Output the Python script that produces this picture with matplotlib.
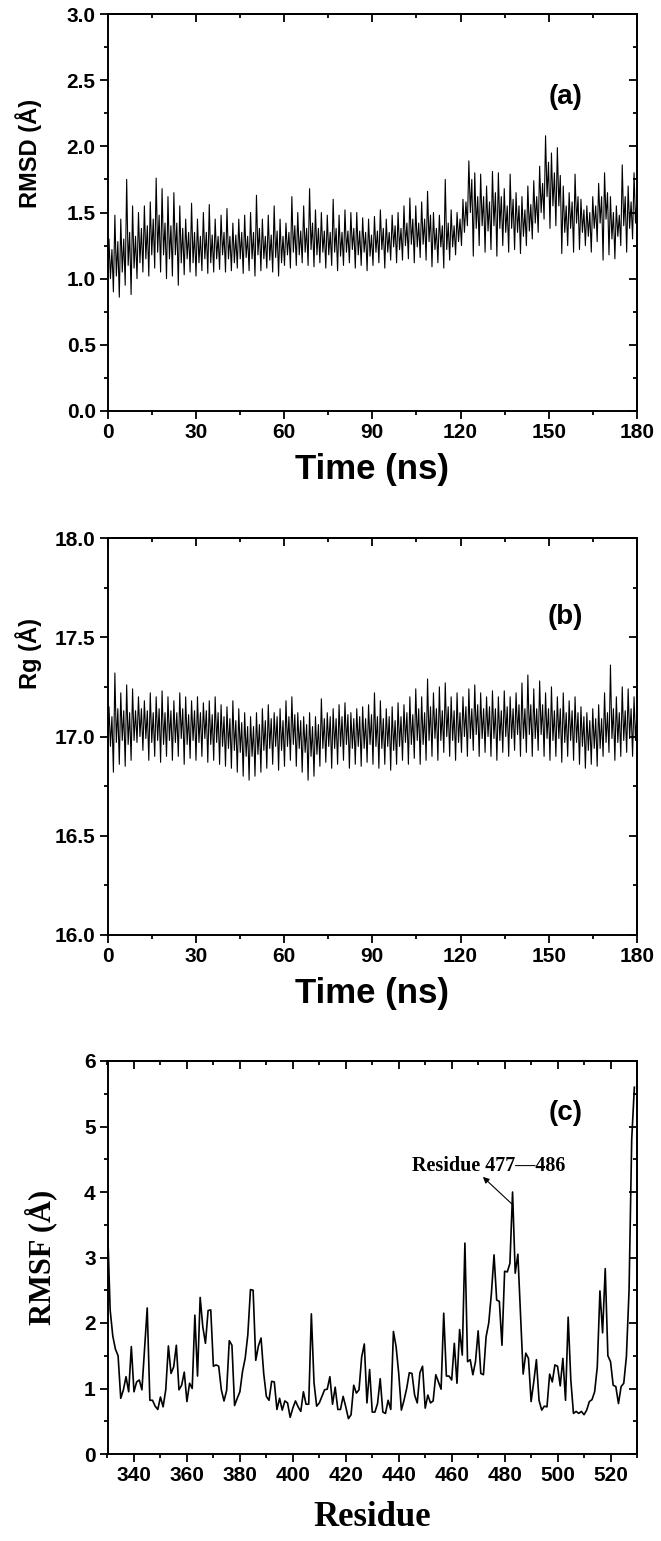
import matplotlib
matplotlib.use('Agg')
import matplotlib.pyplot as plt
from matplotlib.ticker import MultipleLocator, FormatStrFormatter
import numpy as np

plt.rcParams['font.family'] = ['Liberation Sans', 'DejaVu Sans']
plt.rcParams['font.weight'] = 'bold'

# RMSD trace read in 2 ns bins (0-180 ns): outer low/high and dark core low/high
rmsd_lo = [0.88, 0.90, 0.86, 0.95, 0.88, 1.00, 1.05, 1.02, 1.08, 1.05,
           1.00, 1.02, 0.95, 1.03, 1.05, 1.02, 1.06, 1.04, 1.05, 1.07,
           1.05, 1.06, 1.08, 1.04, 1.06, 1.02, 1.06, 1.08, 1.05, 1.02,
           1.10, 1.08, 1.10, 1.12, 1.10, 1.09, 1.12, 1.08, 1.10, 1.06,
           1.10, 1.12, 1.08, 1.10, 1.06, 1.10, 1.12, 1.08, 1.14, 1.12,
           1.14, 1.15, 1.12, 1.16, 1.14, 1.09, 1.12, 1.08, 1.14, 1.18,
           1.25, 1.40, 1.17, 1.25, 1.20, 1.22, 1.17, 1.25, 1.20, 1.22,
           1.19, 1.25, 1.30, 1.35, 1.45, 1.38, 1.40, 1.19, 1.25, 1.20,
           1.22, 1.25, 1.20, 1.28, 1.14, 1.18, 1.15, 1.25, 1.20, 1.30]
rmsd_hi = [1.30, 1.48, 1.45, 1.75, 1.55, 1.50, 1.55, 1.58, 1.76, 1.68,
           1.62, 1.65, 1.55, 1.45, 1.57, 1.45, 1.50, 1.56, 1.45, 1.48,
           1.53, 1.42, 1.45, 1.48, 1.50, 1.63, 1.45, 1.48, 1.55, 1.45,
           1.42, 1.62, 1.50, 1.55, 1.68, 1.52, 1.50, 1.48, 1.60, 1.48,
           1.52, 1.50, 1.50, 1.46, 1.45, 1.47, 1.52, 1.45, 1.48, 1.50,
           1.55, 1.61, 1.55, 1.58, 1.66, 1.50, 1.48, 1.75, 1.52, 1.50,
           1.60, 1.89, 1.80, 1.79, 1.70, 1.81, 1.80, 1.68, 1.79, 1.65,
           1.62, 1.70, 1.74, 1.85, 2.08, 1.95, 1.99, 1.70, 1.65, 1.79,
           1.60, 1.55, 1.62, 1.72, 1.80, 1.62, 1.55, 1.86, 1.70, 1.80]
rmsd_core_lo = [1.00, 1.02, 1.05, 1.10, 1.08, 1.12, 1.15, 1.18, 1.20, 1.18,
                1.15, 1.18, 1.12, 1.15, 1.12, 1.12, 1.15, 1.12, 1.15, 1.18,
                1.15, 1.12, 1.15, 1.16, 1.15, 1.18, 1.15, 1.14, 1.16, 1.12,
                1.18, 1.20, 1.18, 1.20, 1.22, 1.18, 1.20, 1.18, 1.20, 1.17,
                1.20, 1.22, 1.18, 1.20, 1.17, 1.20, 1.22, 1.20, 1.24, 1.22,
                1.25, 1.26, 1.24, 1.26, 1.28, 1.22, 1.24, 1.22, 1.24, 1.28,
                1.35, 1.50, 1.38, 1.40, 1.36, 1.40, 1.38, 1.35, 1.38, 1.35,
                1.32, 1.36, 1.42, 1.50, 1.62, 1.55, 1.55, 1.35, 1.38, 1.42,
                1.35, 1.32, 1.38, 1.42, 1.45, 1.30, 1.32, 1.40, 1.38, 1.42]
rmsd_core_hi = [1.22, 1.28, 1.30, 1.35, 1.32, 1.38, 1.40, 1.45, 1.48, 1.42,
                1.40, 1.42, 1.38, 1.35, 1.35, 1.32, 1.35, 1.33, 1.32, 1.35,
                1.32, 1.33, 1.35, 1.32, 1.35, 1.38, 1.32, 1.33, 1.36, 1.32,
                1.35, 1.40, 1.36, 1.38, 1.42, 1.38, 1.36, 1.35, 1.38, 1.35,
                1.36, 1.38, 1.36, 1.35, 1.33, 1.36, 1.38, 1.35, 1.40, 1.38,
                1.42, 1.45, 1.42, 1.45, 1.48, 1.38, 1.40, 1.42, 1.40, 1.45,
                1.58, 1.75, 1.62, 1.62, 1.58, 1.65, 1.62, 1.55, 1.60, 1.55,
                1.52, 1.56, 1.62, 1.72, 1.88, 1.80, 1.78, 1.55, 1.58, 1.62,
                1.52, 1.50, 1.55, 1.62, 1.65, 1.50, 1.48, 1.62, 1.58, 1.62]

# Rg trace, same 2 ns bins
rg_lo = [16.88, 16.82, 16.86, 16.85, 16.88, 16.97, 16.93, 16.88, 16.90, 16.87,
         16.90, 16.88, 16.90, 16.86, 16.89, 16.88, 16.90, 16.87, 16.88, 16.86,
         16.85, 16.84, 16.82, 16.80, 16.78, 16.80, 16.82, 16.84, 16.86, 16.83,
         16.85, 16.88, 16.85, 16.82, 16.78, 16.80, 16.85, 16.87, 16.84, 16.86,
         16.88, 16.84, 16.86, 16.85, 16.87, 16.86, 16.84, 16.86, 16.83, 16.86,
         16.88, 16.86, 16.89, 16.86, 16.88, 16.90, 16.88, 16.92, 16.90, 16.88,
         16.92, 16.90, 16.93, 16.90, 16.92, 16.90, 16.88, 16.92, 16.90, 16.93,
         16.90, 16.92, 16.90, 16.93, 16.90, 16.88, 16.90, 16.87, 16.90, 16.88,
         16.86, 16.84, 16.86, 16.85, 16.90, 16.92, 16.88, 16.90, 16.92, 16.90]
rg_hi = [17.15, 17.32, 17.22, 17.26, 17.24, 17.20, 17.18, 17.22, 17.20, 17.23,
         17.20, 17.18, 17.22, 17.20, 17.18, 17.20, 17.17, 17.18, 17.20, 17.16,
         17.15, 17.18, 17.14, 17.12, 17.10, 17.12, 17.14, 17.16, 17.12, 17.14,
         17.18, 17.20, 17.12, 17.10, 17.12, 17.10, 17.19, 17.12, 17.14, 17.16,
         17.17, 17.12, 17.14, 17.15, 17.16, 17.22, 17.18, 17.14, 17.15, 17.17,
         17.16, 17.20, 17.24, 17.20, 17.29, 17.22, 17.25, 17.27, 17.20, 17.22,
         17.20, 17.24, 17.26, 17.22, 17.20, 17.23, 17.20, 17.23, 17.20, 17.22,
         17.27, 17.31, 17.24, 17.28, 17.22, 17.25, 17.20, 17.22, 17.18, 17.20,
         17.15, 17.12, 17.14, 17.16, 17.22, 17.36, 17.20, 17.25, 17.24, 17.20]
rg_core_lo = [16.95, 16.97, 16.98, 16.96, 16.98, 17.00, 16.99, 16.97, 16.98, 16.96,
              16.98, 16.97, 16.99, 16.96, 16.98, 16.97, 16.99, 16.96, 16.97, 16.95,
              16.94, 16.93, 16.92, 16.90, 16.90, 16.91, 16.93, 16.94, 16.95, 16.93,
              16.95, 16.96, 16.94, 16.92, 16.90, 16.91, 16.94, 16.95, 16.94, 16.95,
              16.96, 16.94, 16.95, 16.94, 16.96, 16.95, 16.94, 16.95, 16.93, 16.95,
              16.97, 16.96, 16.98, 16.96, 16.98, 16.99, 16.98, 17.00, 16.98, 16.97,
              17.00, 16.99, 17.01, 16.99, 17.00, 16.99, 16.98, 17.00, 16.99, 17.01,
              16.99, 17.01, 16.99, 17.01, 16.99, 16.98, 16.99, 16.97, 16.98, 16.97,
              16.95, 16.93, 16.94, 16.94, 16.97, 16.99, 16.97, 16.98, 16.99, 16.98]
rg_core_hi = [17.10, 17.14, 17.13, 17.12, 17.13, 17.14, 17.13, 17.12, 17.14, 17.12,
              17.13, 17.12, 17.14, 17.11, 17.13, 17.12, 17.13, 17.11, 17.12, 17.10,
              17.09, 17.08, 17.07, 17.05, 17.05, 17.06, 17.08, 17.09, 17.10, 17.08,
              17.10, 17.11, 17.08, 17.06, 17.05, 17.06, 17.09, 17.10, 17.09, 17.10,
              17.11, 17.09, 17.10, 17.09, 17.11, 17.10, 17.09, 17.10, 17.08, 17.10,
              17.12, 17.11, 17.14, 17.12, 17.15, 17.14, 17.13, 17.15, 17.13, 17.12,
              17.15, 17.14, 17.16, 17.14, 17.15, 17.14, 17.13, 17.15, 17.14, 17.16,
              17.14, 17.16, 17.14, 17.16, 17.14, 17.13, 17.14, 17.12, 17.13, 17.12,
              17.10, 17.08, 17.09, 17.09, 17.12, 17.14, 17.12, 17.13, 17.14, 17.13]

# RMSF per residue, residues 330-529
first_residue = 330
rmsf = [3.50, 2.20, 1.80, 1.60, 1.50, 0.85, 0.98, 1.18, 0.95, 1.64,
        0.95, 1.10, 1.13, 0.98, 1.60, 2.23, 0.82, 0.82, 0.73, 0.68,
        0.87, 0.72, 0.98, 1.65, 1.23, 1.33, 1.66, 0.98, 1.05, 1.25,
        0.80, 1.08, 1.00, 2.12, 1.19, 2.39, 1.94, 1.69, 2.19, 2.20,
        1.34, 1.36, 1.34, 0.98, 0.81, 0.97, 1.73, 1.66, 0.74, 0.85,
        0.95, 1.26, 1.46, 1.82, 2.51, 2.50, 1.43, 1.65, 1.77, 1.23,
        0.88, 0.82, 1.11, 1.10, 0.68, 0.85, 0.67, 0.81, 0.78, 0.56,
        0.70, 0.81, 0.72, 0.65, 0.95, 0.76, 0.76, 2.14, 1.09, 0.73,
        0.78, 0.88, 0.98, 0.99, 1.18, 0.76, 1.02, 0.68, 0.68, 0.88,
        0.72, 0.54, 0.60, 1.05, 0.93, 0.98, 1.48, 1.68, 0.78, 1.29,
        0.64, 0.64, 0.77, 1.15, 0.64, 0.62, 0.82, 0.68, 1.87, 1.64,
        1.23, 0.67, 0.82, 1.00, 1.24, 1.23, 0.90, 0.78, 1.24, 1.34,
        0.70, 0.90, 0.78, 0.81, 1.21, 1.10, 0.99, 2.15, 1.19, 1.19,
        1.13, 1.69, 1.08, 1.90, 1.51, 3.22, 1.41, 1.44, 1.21, 1.41,
        1.88, 1.23, 1.21, 1.79, 2.00, 2.45, 3.04, 2.35, 2.33, 1.66,
        2.79, 2.78, 2.91, 4.00, 2.76, 3.05, 2.12, 1.22, 1.54, 1.46,
        0.80, 1.10, 1.44, 0.82, 0.67, 0.73, 0.72, 1.22, 1.10, 1.36,
        1.34, 1.04, 1.46, 0.82, 2.09, 1.13, 0.62, 0.65, 0.62, 0.65,
        0.60, 0.67, 0.80, 0.83, 0.95, 1.33, 2.49, 1.85, 2.83, 1.50,
        1.41, 1.05, 1.03, 0.77, 1.03, 1.08, 1.49, 2.50, 4.80, 5.60]


def trace(lo, hi, clo, chi):
    vals = []
    for a, b, c, d in zip(lo, hi, clo, chi):
        vals += [a, b, c, d]
    return np.array(vals)


def style(ax, xmaj, xmin, ymaj, ymin, size=15):
    ax.xaxis.set_major_locator(MultipleLocator(xmaj))
    ax.xaxis.set_minor_locator(MultipleLocator(xmin))
    ax.yaxis.set_major_locator(MultipleLocator(ymaj))
    ax.yaxis.set_minor_locator(MultipleLocator(ymin))
    ax.tick_params(which='both', direction='out', width=1.3, labelsize=size, pad=3)
    ax.tick_params(which='major', length=5.5)
    ax.tick_params(which='minor', length=3)
    for s in ax.spines.values():
        s.set_linewidth(1.4)
    top = ax.secondary_xaxis('top')
    right = ax.secondary_yaxis('right')
    for sec, axis in ((top, top.xaxis), (right, right.yaxis)):
        axis.set_major_locator(MultipleLocator(xmaj if sec is top else ymaj))
        axis.set_minor_locator(MultipleLocator(xmin if sec is top else ymin))
        sec.tick_params(which='both', direction='in', width=1.3,
                        labeltop=False, labelright=False)
        sec.tick_params(which='major', length=5.5)
        sec.tick_params(which='minor', length=3)
        for s in sec.spines.values():
            s.set_linewidth(1.4)
    for lab in ax.get_xticklabels() + ax.get_yticklabels():
        lab.set_fontweight('bold')


fig = plt.figure(figsize=(6.61, 15.41), dpi=100)
L, W = 107.5 / 661, 529.5 / 661

# (a) RMSD
ax1 = fig.add_axes([L, 1 - 411 / 1541, W, 397 / 1541])
y1 = trace(rmsd_lo, rmsd_hi, rmsd_core_lo, rmsd_core_hi)
ax1.plot(np.linspace(0, 180, len(y1)), y1, color='black', lw=0.8)
ax1.set_xlim(0, 180)
ax1.set_ylim(0, 3)
ax1.yaxis.set_major_formatter(FormatStrFormatter('%.1f'))
style(ax1, 30, 15, 0.5, 0.25)
ax1.set_xlabel('Time (ns)', fontsize=25, fontweight='bold', labelpad=8)
ax1.set_ylabel('RMSD (Å)', fontsize=17, fontweight='bold')
ax1.yaxis.set_label_coords(-0.124, 0.65)
ax1.text(0.865, 0.79, '(a)', transform=ax1.transAxes, fontsize=20,
         fontweight='bold', ha='center', va='center')

# (b) Rg
ax2 = fig.add_axes([L, 1 - 935 / 1541, W, 397 / 1541])
y2 = trace(rg_lo, rg_hi, rg_core_lo, rg_core_hi)
ax2.plot(np.linspace(0, 180, len(y2)), y2, color='black', lw=0.8)
ax2.set_xlim(0, 180)
ax2.set_ylim(16, 18)
ax2.yaxis.set_major_formatter(FormatStrFormatter('%.1f'))
style(ax2, 30, 15, 0.5, 0.25)
ax2.set_xlabel('Time (ns)', fontsize=25, fontweight='bold', labelpad=8)
ax2.set_ylabel('Rg (Å)', fontsize=17, fontweight='bold')
ax2.yaxis.set_label_coords(-0.124, 0.71)
ax2.text(0.865, 0.80, '(b)', transform=ax2.transAxes, fontsize=20,
         fontweight='bold', ha='center', va='center')

# (c) RMSF
ax3 = fig.add_axes([L, 1 - 1454 / 1541, W, 393 / 1541])
res = np.arange(first_residue, first_residue + len(rmsf))
ax3.plot(res, rmsf, color='black', lw=1.2)
ax3.set_xlim(330, 530)
ax3.set_ylim(0, 6)
style(ax3, 20, 10, 1, 0.5)
serif = ['Liberation Serif', 'DejaVu Serif']
ax3.set_xlabel('Residue', fontsize=25, fontweight='bold', family=serif, labelpad=12)
ax3.set_ylabel('RMSF (Å)', fontsize=22, fontweight='bold', family=serif)
ax3.yaxis.set_label_coords(-0.095, 0.5)
ax3.text(0.865, 0.868, '(c)', transform=ax3.transAxes, fontsize=20,
         fontweight='bold', ha='center', va='center')
ax3.text(474, 4.4, 'Residue 477—486', fontsize=14.5, fontweight='bold',
         family=serif, ha='center', va='center')
ax3.annotate('', xy=(471.8, 4.23), xytext=(483.2, 3.8),
             arrowprops=dict(arrowstyle='-|>', color='black', lw=0.8,
                             mutation_scale=9, shrinkA=0, shrinkB=0))

fig.savefig('out.png', dpi=100)
